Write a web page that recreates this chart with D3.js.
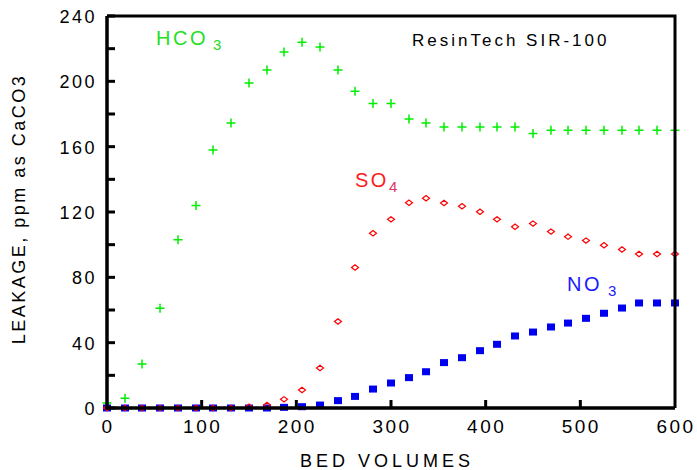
<!DOCTYPE html>
<html>
<head>
<meta charset="utf-8">
<script src="https://cdn.jsdelivr.net/npm/d3@7"></script>
<style>
  body { margin: 0; background: #fff; }
  text { font-family: "Liberation Sans", Arial, sans-serif; }
</style>
</head>
<body>
<script>
// bed volumes where samples were taken
const bedVolumes = [0, 19, 37, 56, 75, 94, 112, 131, 150, 169, 187, 206, 225, 244, 262, 281,
  300, 319, 337, 356, 375, 394, 412, 431, 450, 469, 487, 506, 525, 544, 562, 581, 600];

// leakage, ppm as CaCO3
const hco3 = [3, 6, 27, 61, 103, 124, 158, 174.5, 199, 207, 218, 224, 221, 207, 194, 186.5,
  186.5, 177, 174.5, 172, 172, 172, 172, 172, 168, 170, 170, 170, 170, 170, 170, 170, 170];
const so4 = [0, 0, 0, 0, 0, 0, 0, 0, 0.8, 1.8, 5.3, 11, 24.5, 53, 86, 107,
  115.5, 125.7, 128.4, 125.5, 123.5, 120.2, 115.5, 111, 112.9, 108, 104.9, 102.5, 99.6, 97, 94.3, 94.3, 94.3];
const no3 = [0, 0, 0, 0, 0, 0, 0, 0, 0, 0, 0.4, 0.8, 1.8, 4.5, 7.1, 11.6,
  15.3, 18.6, 22.2, 27.8, 30.8, 35.1, 39, 44.1, 46.5, 49.6, 52, 54.9, 58, 61.2, 64.3, 64.3, 64.3];

const xTicks = [0, 100, 200, 300, 400, 500, 600];
const yTicks = [0, 20, 40, 60, 80, 100, 120, 140, 160, 180, 200, 220, 240];
const yLabels = [0, 40, 80, 120, 160, 200, 240];

const width = 697, height = 470;
const margin = { top: 16, right: 22, bottom: 62, left: 107 };

const x = d3.scaleLinear().domain([0, 600]).range([margin.left, width - margin.right]);
const y = d3.scaleLinear().domain([0, 240]).range([height - margin.bottom, margin.top]);

const svg = d3.select("body").append("svg")
  .attr("width", width)
  .attr("height", height);

const pts = arr => arr.map((v, i) => ({ bv: bedVolumes[i], v }));

// HCO3 pluses
svg.append("g")
  .selectAll("path")
  .data(pts(hco3))
  .join("path")
  .attr("d", "M-4.5,0H4.5M0,-4.5V4.5")
  .attr("transform", d => `translate(${x(d.bv)},${y(d.v)})`)
  .attr("stroke", "#00ee00")
  .attr("stroke-width", 1.5)
  .attr("fill", "none");

// NO3 squares
svg.append("g")
  .selectAll("rect")
  .data(pts(no3))
  .join("rect")
  .attr("x", d => x(d.bv) - 4)
  .attr("y", d => y(d.v) - 3.5)
  .attr("width", 8)
  .attr("height", 7)
  .attr("fill", "#0000f0");

// SO4 diamonds
svg.append("g")
  .selectAll("path")
  .data(pts(so4))
  .join("path")
  .attr("d", "M-3.5,0L0,-2.7L3.5,0L0,2.7Z")
  .attr("transform", d => `translate(${x(d.bv)},${y(d.v)})`)
  .attr("stroke", "#ff0000")
  .attr("stroke-width", 1.2)
  .attr("fill", "none");

// frame
const x0 = x(0), x1 = x(600), y0 = y(0), y1 = y(240);
svg.append("path")
  .attr("d", `M${x0},${y1}H${x1}V${y0}`)
  .attr("stroke", "#000")
  .attr("stroke-width", 3)
  .attr("fill", "none");
svg.append("path")
  .attr("d", `M${x0},${y1}V${y0}H${x1}`)
  .attr("stroke", "#000")
  .attr("stroke-width", 3.5)
  .attr("fill", "none");

// inward ticks
svg.append("g")
  .selectAll("line")
  .data(yTicks)
  .join("line")
  .attr("x1", x0)
  .attr("x2", x0 + 8)
  .attr("y1", d => y(d))
  .attr("y2", d => y(d))
  .attr("stroke", "#000")
  .attr("stroke-width", 3);

svg.append("g")
  .selectAll("line")
  .data(xTicks.slice(1, -1))
  .join("line")
  .attr("x1", d => x(d))
  .attr("x2", d => x(d))
  .attr("y1", y0)
  .attr("y2", y0 - 8)
  .attr("stroke", "#000")
  .attr("stroke-width", 3);

// tick labels
svg.append("g")
  .selectAll("text")
  .data(yLabels)
  .join("text")
  .attr("x", x0 - 10)
  .attr("y", d => y(d) + 7)
  .attr("text-anchor", "end")
  .style("font-size", "18px")
  .style("letter-spacing", "2.5px")
  .text(d => d);

svg.append("g")
  .selectAll("text")
  .data(xTicks)
  .join("text")
  .attr("x", d => x(d) + 1)
  .attr("y", y0 + 25)
  .attr("text-anchor", "middle")
  .style("font-size", "19px")
  .style("letter-spacing", "2.5px")
  .text(d => d);

// axis titles
svg.append("text")
  .attr("x", 387)
  .attr("y", 467)
  .attr("text-anchor", "middle")
  .style("font-size", "18px")
  .style("letter-spacing", "4px")
  .text("BED VOLUMES");

svg.append("text")
  .attr("transform", "translate(25,209) rotate(-90)")
  .attr("text-anchor", "middle")
  .style("font-size", "18px")
  .style("letter-spacing", "2.5px")
  .text("LEAKAGE, ppm as CaCO3");

// title
svg.append("text")
  .attr("x", 412)
  .attr("y", 46)
  .style("font-size", "17px")
  .style("letter-spacing", "3px")
  .text("ResinTech SIR-100");

// series labels with subscripts
const label = (tx, ty, main, sub, gap, color, subColor) => {
  const t = svg.append("text")
    .attr("x", tx)
    .attr("y", ty)
    .attr("fill", color)
    .style("font-size", "20px")
    .style("letter-spacing", "2.5px")
    .text(main);
  t.append("tspan")
    .attr("dx", gap)
    .attr("dy", 5)
    .attr("fill", subColor)
    .style("font-size", "15px")
    .text(sub);
};
label(156, 45, "HCO", "3", 5, "#22e022", "#22e022");
label(355, 187, "SO", "4", 0, "#ff1a1a", "#dd3366");
label(567, 291, "NO", "3", 6, "#1a1aff", "#1a1aff");
</script>
</body>
</html>
